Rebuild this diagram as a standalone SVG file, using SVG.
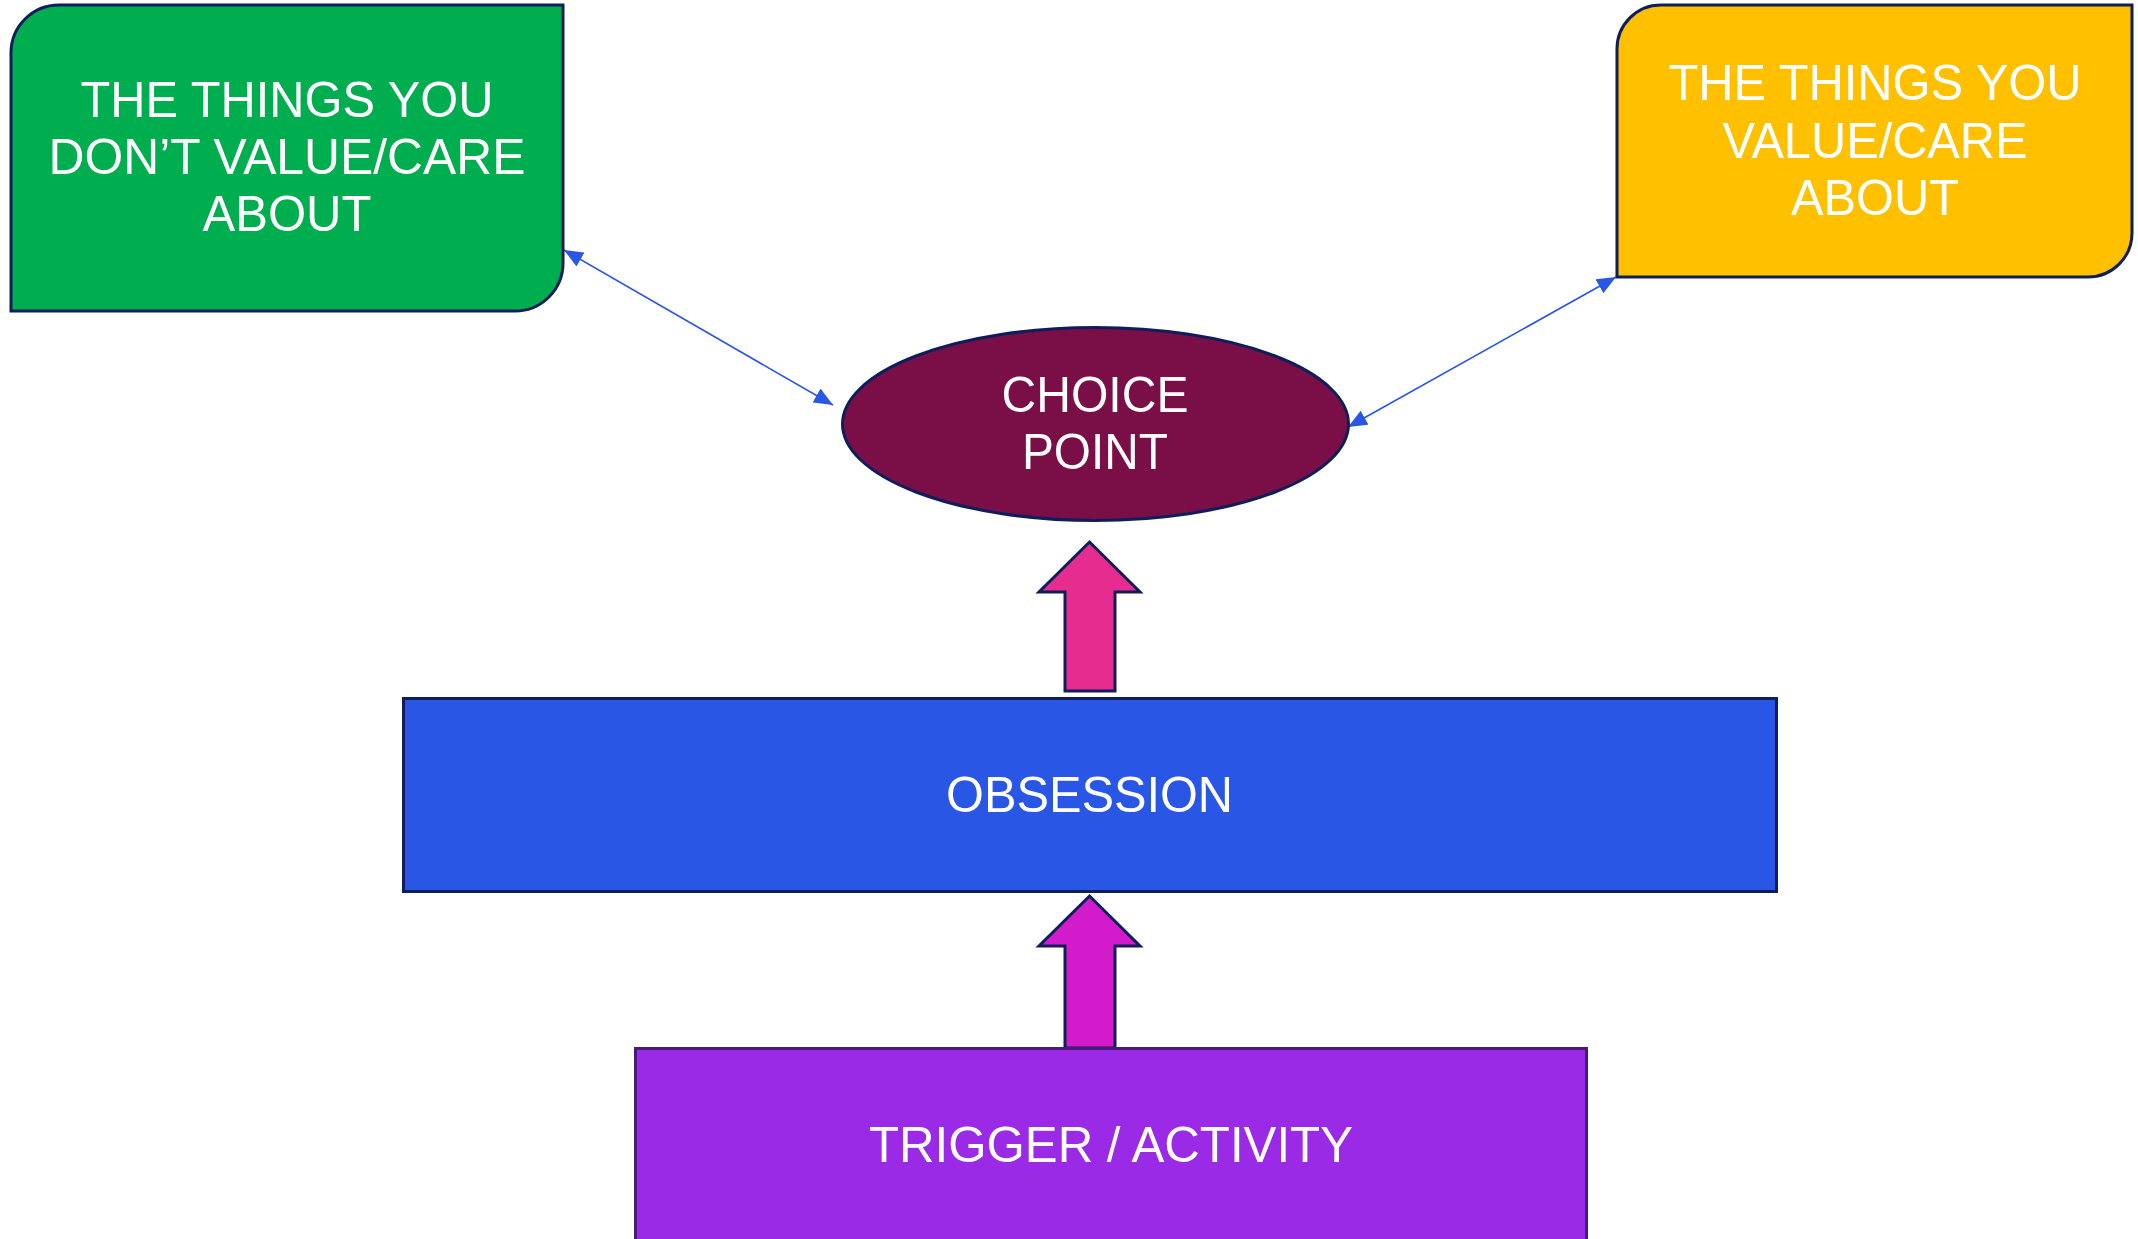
<svg xmlns="http://www.w3.org/2000/svg" width="2138" height="1239" viewBox="0 0 2138 1239">
  <defs>
    <style>
      .shape { stroke: #0E1E5B; stroke-width: 3; }
      .lbl { font-family: "Liberation Sans", Arial, sans-serif; font-size: 50px; fill: #FFFFFF; text-anchor: middle; }
      .conn { stroke: #2A56E6; stroke-width: 1.6; fill: none; }
    </style>
    <marker id="ah" viewBox="0 0 19 16" refX="19" refY="8" markerWidth="19" markerHeight="16" markerUnits="userSpaceOnUse" orient="auto-start-reverse">
      <path d="M0,0 L19,8 L0,16 Z" fill="#2A56E6"/>
    </marker>
  </defs>
  <rect x="0" y="0" width="2138" height="1239" fill="#FFFFFF"/>

  <g id="connectors">
    <line class="conn" x1="564" y1="250" x2="833" y2="405" marker-start="url(#ah)" marker-end="url(#ah)"/>
    <line class="conn" x1="1348" y1="427" x2="1616" y2="277" marker-start="url(#ah)" marker-end="url(#ah)"/>
  </g>

  <g id="node-dont-value">
    <path class="shape" fill="#00AE4F" d="M11,53 A48,48 0 0 1 59,5 L563,5 L563,263 A48,48 0 0 1 515,311 L11,311 Z"/>
    <text class="lbl" x="287" y="117" textLength="413" lengthAdjust="spacingAndGlyphs">THE THINGS YOU</text>
    <text class="lbl" x="287" y="174" textLength="477" lengthAdjust="spacingAndGlyphs">DON’T VALUE/CARE</text>
    <text class="lbl" x="287" y="231" textLength="169" lengthAdjust="spacingAndGlyphs">ABOUT</text>
  </g>

  <g id="node-value">
    <path class="shape" fill="#FFC000" d="M1617,49 A44,44 0 0 1 1661,5 L2132,5 L2132,233 A44,44 0 0 1 2088,277 L1617,277 Z"/>
    <text class="lbl" x="1875" y="100" textLength="413" lengthAdjust="spacingAndGlyphs">THE THINGS YOU</text>
    <text class="lbl" x="1875" y="158" textLength="305" lengthAdjust="spacingAndGlyphs">VALUE/CARE</text>
    <text class="lbl" x="1875" y="215" textLength="168" lengthAdjust="spacingAndGlyphs">ABOUT</text>
  </g>

  <g id="node-choice-point">
    <ellipse class="shape" fill="#7A0E47" cx="1095.5" cy="424" rx="253" ry="96.5"/>
    <text class="lbl" x="1095" y="412" textLength="187" lengthAdjust="spacingAndGlyphs">CHOICE</text>
    <text class="lbl" x="1095" y="469" textLength="146" lengthAdjust="spacingAndGlyphs">POINT</text>
  </g>

  <g id="arrow-obsession-to-choice">
    <polygon class="shape" fill="#E62C8F" stroke-width="2.5" points="1089.5,542 1140,592 1115,592 1115,691 1065,691 1065,592 1039,592"/>
  </g>

  <g id="node-obsession">
    <rect class="shape" fill="#2A56E6" x="403.5" y="698.5" width="1373" height="193"/>
    <text class="lbl" x="1089.5" y="812" textLength="287" lengthAdjust="spacingAndGlyphs">OBSESSION</text>
  </g>

  <g id="arrow-trigger-to-obsession">
    <polygon class="shape" fill="#D21BCB" stroke-width="2.5" points="1089.5,896 1140,946 1115,946 1115,1048 1065,1048 1065,946 1039,946"/>
  </g>

  <g id="node-trigger">
    <rect fill="#9B2AE6" stroke="#4A1A7A" stroke-width="3" x="635.5" y="1048.5" width="951" height="220"/>
    <text class="lbl" x="1111" y="1162" textLength="484" lengthAdjust="spacingAndGlyphs">TRIGGER / ACTIVITY</text>
  </g>
</svg>
